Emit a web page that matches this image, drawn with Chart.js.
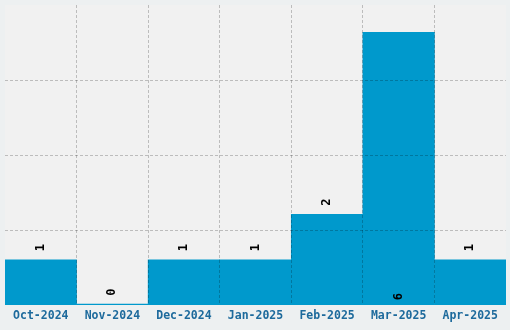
<!DOCTYPE html>
<html>
<head>
<meta charset="utf-8">
<script src="https://cdn.jsdelivr.net/npm/chart.js@4/dist/chart.umd.min.js"></script>
<style>
  html, body { margin: 0; padding: 0; background: #edf0f1; }
  #wrap { width: 510px; height: 330px; }
</style>
</head>
<body>
<div id="wrap"><canvas id="c" width="510" height="330"></canvas></div>
<script>
const categories = ["Oct-2024", "Nov-2024", "Dec-2024", "Jan-2025", "Feb-2025", "Mar-2025", "Apr-2025"];
const counts = [1, 0, 1, 1, 2, 6, 1];
const yMax = 6.6;
const yStep = 1.65;

const MONO = "'DejaVu Sans Mono', 'Liberation Mono', monospace";
const GRID = 'rgba(0,0,0,0.22)';
const NONE = 'rgba(0,0,0,0)';

const bgPlugin = {
  id: 'bg',
  beforeDraw(chart) {
    const { ctx, chartArea: a } = chart;
    ctx.save();
    ctx.fillStyle = '#edf0f1';
    ctx.fillRect(0, 0, chart.width, chart.height);
    ctx.fillStyle = '#f1f1f1';
    ctx.fillRect(a.left, a.top, a.right - a.left, a.bottom - a.top);
    ctx.restore();
  }
};

const labelPlugin = {
  id: 'vlabels',
  afterDraw(chart) {
    const { ctx } = chart;
    const meta = chart.getDatasetMeta(0);
    const data = chart.data.datasets[0].data;
    const maxV = Math.max(...data);
    ctx.save();
    ctx.fillStyle = '#000';
    ctx.font = "bold 12px " + MONO;
    ctx.textAlign = 'center';
    ctx.textBaseline = 'middle';
    meta.data.forEach((bar, i) => {
      const v = data[i];
      const y = (v === maxV) ? bar.base - 8 : bar.y - 12;
      ctx.save();
      ctx.translate(bar.x, y);
      ctx.rotate(-Math.PI / 2);
      ctx.fillText(String(v), 0, 0);
      ctx.restore();
    });
    ctx.restore();
  }
};

const gridColor = (c) => (c.index === undefined || c.index === 0) ? NONE : GRID;

new Chart(document.getElementById('c'), {
  type: 'bar',
  plugins: [bgPlugin, labelPlugin],
  data: {
    labels: categories,
    datasets: [{
      data: counts,
      backgroundColor: '#0099cc',
      borderWidth: 0,
      barPercentage: 1,
      categoryPercentage: 1,
      minBarLength: 1
    }]
  },
  options: {
    responsive: false,
    animation: false,
    devicePixelRatio: 1,
    layout: { padding: { left: 5, top: 5, right: 4, bottom: 3 } },
    plugins: { legend: { display: false }, tooltip: { enabled: false } },
    scales: {
      x: {
        offset: true,
        border: { display: false, dash: [3, 2] },
        grid: {
          z: 1,
          offset: true,
          drawTicks: false,
          color: gridColor
        },
        ticks: {
          padding: 4,
          color: '#1d6a9c',
          font: { family: MONO, size: 11.5, weight: 'bold' },
          maxRotation: 0,
          autoSkip: false
        }
      },
      y: {
        min: 0,
        max: yMax,
        border: { display: false, dash: [3, 2] },
        grid: {
          z: 1,
          drawTicks: false,
          color: (c) => (c.index === undefined || c.index === 0 || (c.tick && c.tick.value >= yMax - 1e-6)) ? NONE : GRID
        },
        ticks: { display: false, stepSize: yStep }
      }
    }
  }
});
</script>
</body>
</html>
